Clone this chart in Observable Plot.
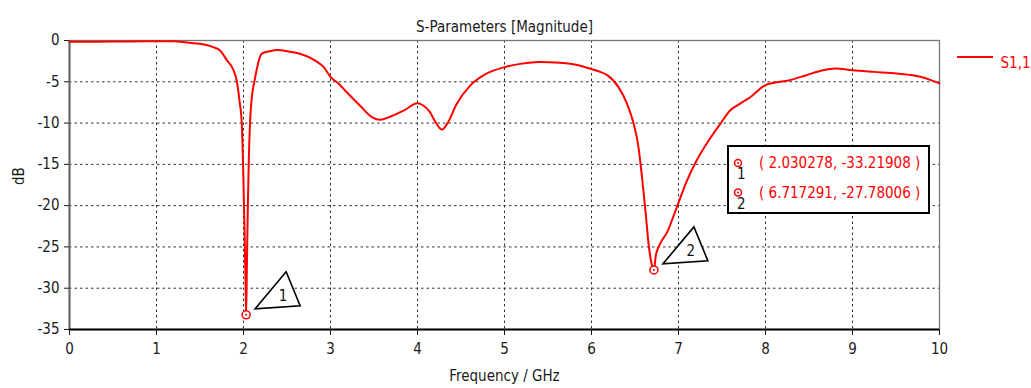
<!DOCTYPE html>
<html><head><meta charset="utf-8">
<script src="https://cdn.jsdelivr.net/npm/d3@7"></script>
<script src="https://cdn.jsdelivr.net/npm/@observablehq/plot@0.6"></script>
<style>
body{margin:0;background:#fff;}
#chart{position:relative;width:1031px;height:388px;overflow:hidden;}
</style></head><body><div id="chart"></div>
<script>
const freqGHz = [0.0,0.3,0.6,0.9,1.2,1.35,1.5,1.65,1.73,1.81,1.885,1.924,1.954,1.98,1.995,2.01,2.025,2.030278,2.038,2.05,2.062,2.075,2.10,2.125,2.15,2.21,2.3,2.4,2.5,2.65,2.82,2.92,3.0,3.1,3.19,3.34,3.48,3.57,3.69,3.84,4.0,4.07,4.13,4.22,4.28,4.34,4.45,4.61,4.76,5.01,5.2,5.39,5.64,5.85,5.98,6.10,6.18,6.31,6.41,6.48,6.54,6.58,6.62,6.66,6.69,6.717291,6.74,6.79,6.87,6.98,7.10,7.21,7.36,7.48,7.59,7.7,7.82,8.0,8.28,8.47,8.66,8.80,9.0,9.25,9.51,9.78,9.9,10.0];
const s11dB = [-0.15,-0.15,-0.12,-0.1,-0.1,-0.25,-0.4,-0.8,-1.2,-2.4,-3.6,-5.0,-7.3,-10.0,-15,-22,-30,-33.21908,-28,-20,-14,-10,-6.5,-5.0,-3.6,-1.6,-1.3,-1.15,-1.3,-1.6,-2.4,-3.2,-4.4,-5.3,-6.3,-7.9,-9.3,-9.6,-9.2,-8.5,-7.6,-7.9,-8.5,-10.1,-10.8,-10.1,-7.7,-5.4,-4.2,-3.2,-2.8,-2.6,-2.7,-3.0,-3.4,-3.8,-4.2,-5.65,-7.7,-9.9,-12.9,-16.5,-20.6,-25.0,-27.0,-27.78006,-26,-24.6,-23.2,-20.2,-16.9,-14.5,-11.9,-10.1,-8.5,-7.7,-6.9,-5.4,-4.8,-4.2,-3.6,-3.4,-3.6,-3.8,-4.0,-4.4,-4.8,-5.2];
const markerIds = ["1","2"];
const markerFreq = [2.030278, 6.717291];
const markerDb = [-33.21908, -27.78006];
const xTicks = [0,1,2,3,4,5,6,7,8,9,10];
const yTicks = [-35,-30,-25,-20,-15,-10,-5,0];
const seriesName = "S1,1";
const titleText = "S-Parameters [Magnitude]";
const xLabel = "Frequency / GHz";
const yLabel = "dB";

const curve = freqGHz.map((f,i)=>({f, db: s11dB[i]}));
const markers = markerIds.map((id,i)=>({id, f: markerFreq[i], db: markerDb[i]}));
const font = "'DejaVu Sans Condensed', 'DejaVu Sans', sans-serif";
const triangle = { draw(ctx) { ctx.moveTo(9,-6); ctx.lineTo(40,-43); ctx.lineTo(54,-9); ctx.closePath(); } };
const fmt = v => String(v);
const fs = 15;

const plot = Plot.plot({
  width: 1031, height: 388,
  marginLeft: 69, marginRight: 92, marginTop: 40, marginBottom: 59,
  style: {fontFamily: font, fontSize: fs + "px", background: "white", color: "#1a1a1a"},
  x: {domain: [0, 10]},
  y: {domain: [-35, 0]},
  marks: [
    Plot.gridX(xTicks.slice(1, -1), {stroke: "#333", strokeOpacity: 1, strokeDasharray: "2.5,3"}),
    Plot.gridY(yTicks.slice(1, -1), {stroke: "#333", strokeOpacity: 1, strokeDasharray: "2.5,3"}),
    Plot.frame({stroke: "#777", strokeWidth: 1.3}),
    Plot.ruleX([0], {stroke: "#666", strokeWidth: 2}),
    Plot.ruleY([-35], {stroke: "#000", strokeWidth: 2}),
    Plot.axisX({ticks: xTicks, tickSize: 6, tickPadding: 8, tickFormat: fmt, label: null, fontSize: fs}),
    Plot.axisY({ticks: yTicks, tickSize: 5, tickPadding: 5, tickFormat: fmt, label: null, fontSize: fs}),
    Plot.line(curve, {x: "f", y: "db", stroke: "#ff0000", strokeWidth: 2, curve: "monotone-x"}),
    Plot.dot(markers, {x: "f", y: "db", r: 4, stroke: "#ff0000", strokeWidth: 1.5, fill: "white"}),
    Plot.dot(markers, {x: "f", y: "db", r: 1, fill: "#ff0000"}),
    Plot.dot(markers, {x: "f", y: "db", symbol: triangle, fill: "white", stroke: "black", strokeWidth: 1.6}),
    Plot.text(markers, {x: "f", y: "db", text: "id", dx: 37, dy: -19, fill: "#111", fontSize: fs}),
    Plot.text([titleText], {frameAnchor: "top", dy: -19, fontSize: fs, fill: "#1a1a1a"}),
    Plot.text([xLabel], {frameAnchor: "bottom", dy: 51, fontSize: fs, fill: "#1a1a1a"}),
    Plot.text([yLabel], {frameAnchor: "left", dx: -50, rotate: -90, fontSize: fs, fill: "#1a1a1a"}),
    Plot.text([seriesName], {frameAnchor: "top-right", dx: 61, dy: 17, textAnchor: "start", fill: "#ff0000", fontSize: fs})
  ]
});
document.getElementById("chart").appendChild(plot);

const svg = d3.select(plot);
// legend swatch
svg.append("line").attr("x1", 957).attr("x2", 993).attr("y1", 57).attr("y2", 57)
  .attr("stroke", "#ff0000").attr("stroke-width", 2);
// marker readout box
const box = svg.append("g").attr("font-family", font).attr("font-size", fs).attr("text-anchor", "start");
box.append("rect").attr("x", 728).attr("y", 146).attr("width", 201).attr("height", 67)
  .attr("fill", "white").attr("stroke", "black").attr("stroke-width", 2);
markers.forEach((m, i) => {
  const cy = 163 + i * 29.5;
  box.append("circle").attr("cx", 738).attr("cy", cy).attr("r", 3.5)
    .attr("fill", "white").attr("stroke", "#ff0000").attr("stroke-width", 1.5);
  box.append("circle").attr("cx", 738).attr("cy", cy).attr("r", 1).attr("fill", "#ff0000");
  box.append("text").attr("x", 737).attr("y", cy + 16).attr("fill", "#111").text(m.id);
  box.append("text").attr("x", 759).attr("y", cy + 5).attr("fill", "#ff0000")
    .text(`( ${m.f.toFixed(6)}, ${m.db.toFixed(5)} )`);
});
</script></body></html>
